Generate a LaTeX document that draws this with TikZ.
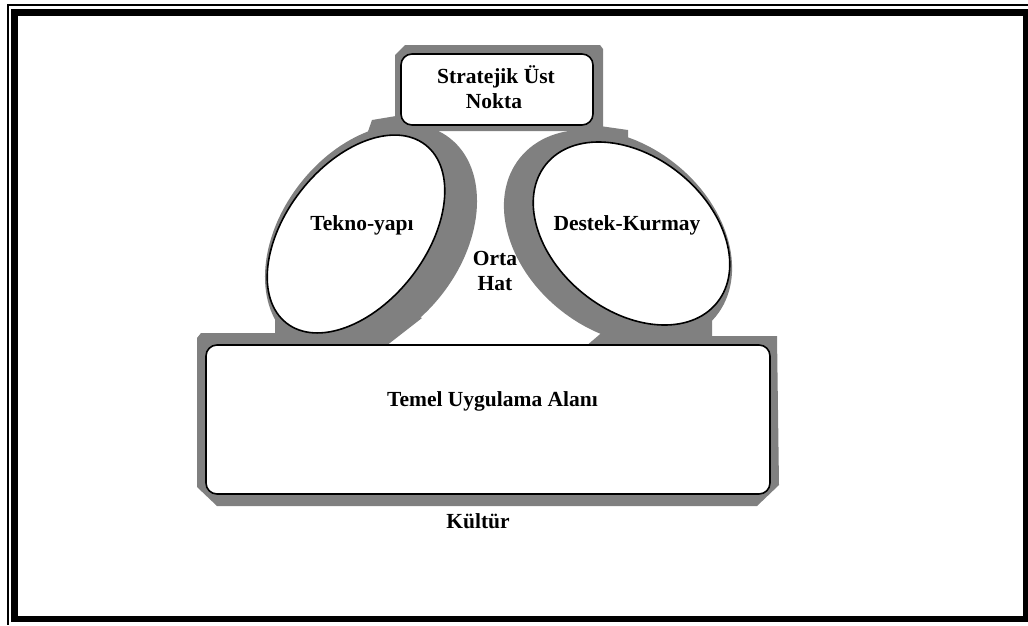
\documentclass[tikz,border=0pt]{standalone}
\usepackage{fontspec}
\setmainfont{Liberation Serif}
\definecolor{grayfillc}{HTML}{808080}
\begin{document}
\begin{tikzpicture}[x=1pt,y=-1pt,
  grayfill/.style={fill=grayfillc, draw=none},
  part/.style={fill=white, draw=black, line width=1.6pt},
  lbl/.style={font=\fontsize{21.5}{25}\selectfont\bfseries, inner sep=0pt, anchor=base}]
\useasboundingbox (0,0) rectangle (1028,625);
% frame
\fill[white] (0,0) rectangle (1028,625);
\fill[black] (7,4) rectangle (9,625);
\fill[black] (7,4) rectangle (1028,6);
\fill[black] (11,9) rectangle (1028,622);
\fill[white] (18,16) rectangle (1023,616);
% gray backdrop
\fill[grayfill] (405,45) -- (600,45) -- (603,49) -- (603,131) -- (395,131) -- (395,55) -- cycle;
\fill[grayfill] (372,120) -- (396,116) -- (400,140) -- (365,140) -- cycle;
\fill[grayfill] (600,126) -- (628,130) -- (628,142) -- (595,142) -- cycle;
\fill[grayfill, rotate around={52:(371,239)}] (371,239) ellipse (128 and 90);
\fill[grayfill, rotate around={-39:(618,237)}] (618,237) ellipse (126 and 93);
\fill[grayfill] (275,295) -- (385,300) -- (422,318) -- (386,346) -- (275,346) -- cycle;
\fill[grayfill] (585,347) -- (640,300) -- (712,300) -- (712,347) -- cycle;
\fill[grayfill] (197,338) -- (201,333) -- (280,333) -- (280,344) -- (700,344) -- (700,336)
  -- (777,336) -- (779,485) -- (757,506) -- (217,506) -- (197,487) -- cycle;
% white parts
\draw[part, rounded corners=11pt] (401,54) rectangle (593,125);
\draw[part, rotate around={52:(356,234)}] (356,234) ellipse (113 and 70);
\draw[part, rotate around={-39:(631.5,233.5)}] (631.5,233.5) ellipse (110 and 77);
\draw[part, rounded corners=11pt] (206,345) rectangle (770,494);
% labels
\node[lbl] (sun1) at (496,83) {Stratejik Üst};
\node[lbl] (sun2) at (494,108) {Nokta};
\node[lbl] (tek) at (362,230) {Tekno-yapı};
\node[lbl] (des) at (627,230) {Destek-Kurmay};
\node[lbl] (orta1) at (495,265) {Orta};
\node[lbl] (orta2) at (495,290) {Hat};
\node[lbl] (tem) at (492.5,406) {Temel Uygulama Alanı};
\node[lbl] (kul) at (478,528) {Kültür};
\end{tikzpicture}
\end{document}
